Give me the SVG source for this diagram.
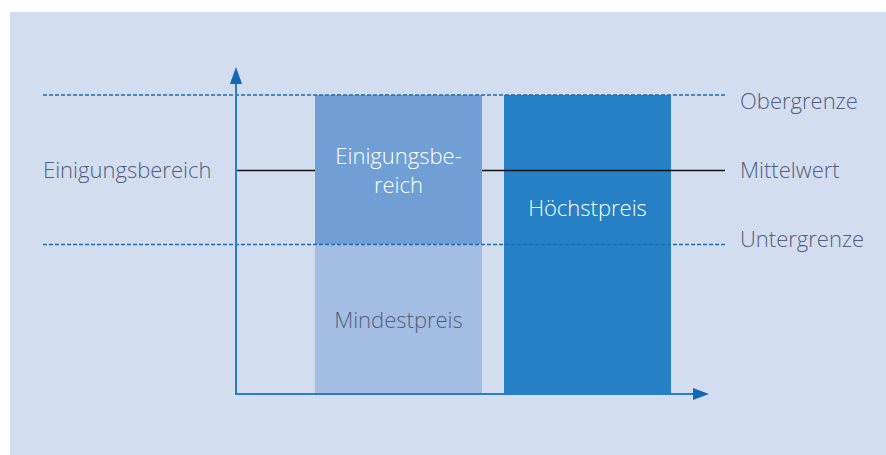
<svg xmlns="http://www.w3.org/2000/svg" width="886" height="455" viewBox="0 0 886 455">
<defs>
<style>
.lbl{font-family:"Open Sans","Liberation Sans",sans-serif;font-size:22px;fill:#525d7c;font-weight:300}
.wl{font-family:"Open Sans","Liberation Sans",sans-serif;font-size:22px;fill:#ffffff;font-weight:300}
.dash{stroke:#1a6cb5;stroke-width:1.3;stroke-dasharray:4 2;fill:none}
</style>
</defs>
<rect x="0" y="0" width="886" height="455" fill="#ffffff"/>
<rect x="10" y="12" width="876" height="443" fill="#d2deF0"/>
<g id="einigungsbereich">
<rect x="315" y="95" width="167" height="149" fill="#6f9fd4"/>
<text class="wl" x="398.5" y="164" text-anchor="middle">Einigungsbe-</text>
<text class="wl" x="398.5" y="193" text-anchor="middle">reich</text>
</g>
<g id="mindestpreis">
<rect x="315" y="244" width="167" height="150" fill="#a4bee3"/>
<text class="lbl" x="398.5" y="328" text-anchor="middle">Mindestpreis</text>
</g>
<g id="hoechstpreis">
<rect x="504" y="95" width="167" height="299" fill="#2580c5"/>
</g>
<g id="connectors">
<path d="M236,170.5 H315 M482,170.5 H725" stroke="#111" stroke-width="1.3" fill="none"/>
<path class="dash" d="M43,95 H725"/>
<path class="dash" d="M43,244.5 H725"/>
<path d="M236,394 V84" stroke="#2a7cc4" stroke-width="2" fill="none"/>
<path d="M230,84 L236,67 L242,84 z" fill="#1467b3"/>
<path d="M235,394 H693" stroke="#2a7cc4" stroke-width="2" fill="none"/>
<path d="M693,388 L709,394 L693,400 z" fill="#1467b3"/>
</g>
<g id="labels">
<text class="wl" x="587.5" y="216" text-anchor="middle">Höchstpreis</text>
<text class="lbl" x="43" y="178">Einigungsbereich</text>
<text class="lbl" x="740" y="109">Obergrenze</text>
<text class="lbl" x="740" y="178">Mittelwert</text>
<text class="lbl" x="740" y="247">Untergrenze</text>
</g>
</svg>
